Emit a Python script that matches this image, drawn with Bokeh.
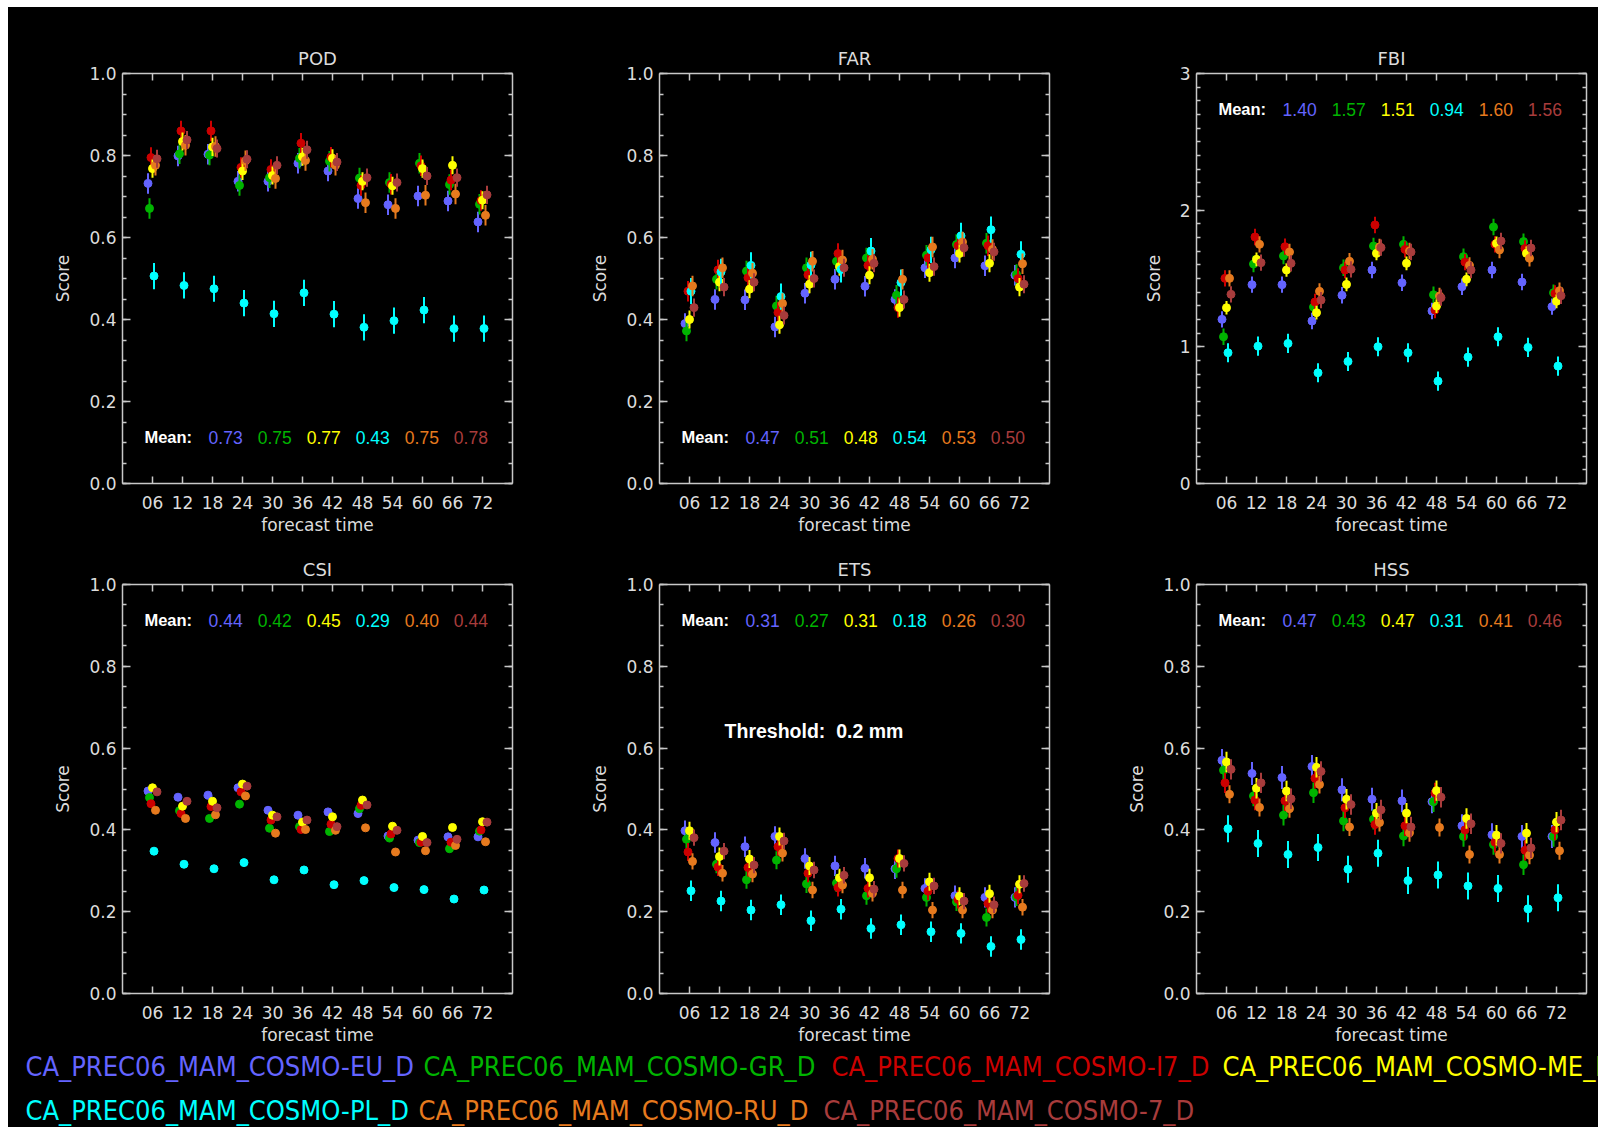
from bokeh.plotting import figure
from bokeh.layouts import column, row
from bokeh.models import (Range1d, LinearAxis, FixedTicker, SingleIntervalTicker,
                          NumeralTickFormatter, CustomJSTickFormatter, Label,
                          GlobalInlineStyleSheet)
from bokeh.embed import file_html
from bokeh.resources import INLINE

# ---------------------------------------------------------------- data
lead_times = ["06", "12", "18", "24", "30", "36", "42", "48", "54", "60", "66", "72"]

models = ["CA_PREC06_MAM_COSMO-EU_D", "CA_PREC06_MAM_COSMO-GR_D", "CA_PREC06_MAM_COSMO-I7_D",
          "CA_PREC06_MAM_COSMO-ME_D", "CA_PREC06_MAM_COSMO-PL_D", "CA_PREC06_MAM_COSMO-RU_D",
          "CA_PREC06_MAM_COSMO-7_D"]
model_colors = ["#6464ff", "#00b400", "#cc0000", "#ffff00", "#00ffff", "#e67a1e", "#a83c3c"]

# scores per model (rows: EU, GR, I7, ME, PL, RU, 7)
pod = [
    [0.732, 0.799, 0.803, 0.737, 0.737, 0.781, 0.762, 0.695, 0.680, 0.701, 0.689, 0.638],
    [0.671, 0.804, 0.801, 0.727, 0.746, 0.793, 0.786, 0.745, 0.734, 0.781, 0.729, 0.681],
    [0.795, 0.860, 0.860, 0.771, 0.766, 0.830, 0.796, 0.727, 0.730, 0.775, 0.740, 0.690],
    [0.768, 0.834, 0.821, 0.762, 0.751, 0.797, 0.793, 0.737, 0.726, 0.768, 0.776, 0.691],
    [0.506, 0.483, 0.475, 0.440, 0.414, 0.465, 0.413, 0.381, 0.397, 0.423, 0.378, 0.378],
    [0.776, 0.825, 0.822, 0.787, 0.744, 0.788, 0.776, 0.685, 0.671, 0.703, 0.706, 0.654],
    [0.792, 0.838, 0.817, 0.791, 0.776, 0.814, 0.784, 0.746, 0.734, 0.750, 0.746, 0.704],
]
far = [
    [0.390, 0.449, 0.448, 0.382, 0.464, 0.498, 0.481, 0.449, 0.526, 0.550, 0.531, 0.508],
    [0.372, 0.498, 0.518, 0.433, 0.526, 0.542, 0.550, 0.459, 0.557, 0.583, 0.586, 0.510],
    [0.469, 0.521, 0.502, 0.417, 0.509, 0.561, 0.532, 0.429, 0.550, 0.580, 0.580, 0.500],
    [0.400, 0.491, 0.474, 0.387, 0.486, 0.529, 0.508, 0.429, 0.514, 0.561, 0.537, 0.479],
    [0.469, 0.516, 0.532, 0.456, 0.533, 0.522, 0.567, 0.490, 0.570, 0.604, 0.619, 0.559],
    [0.482, 0.526, 0.513, 0.439, 0.542, 0.545, 0.547, 0.498, 0.577, 0.589, 0.571, 0.536],
    [0.429, 0.479, 0.491, 0.410, 0.500, 0.526, 0.537, 0.449, 0.529, 0.575, 0.565, 0.486],
]
fbi = [
    [1.201, 1.455, 1.455, 1.189, 1.377, 1.562, 1.469, 1.262, 1.440, 1.562, 1.474, 1.294],
    [1.074, 1.606, 1.665, 1.291, 1.579, 1.738, 1.750, 1.381, 1.660, 1.877, 1.770, 1.396],
    [1.501, 1.804, 1.733, 1.328, 1.562, 1.892, 1.713, 1.269, 1.620, 1.750, 1.720, 1.390],
    [1.286, 1.640, 1.562, 1.250, 1.457, 1.684, 1.611, 1.298, 1.494, 1.757, 1.684, 1.333],
    [0.957, 1.005, 1.025, 0.810, 0.893, 1.001, 0.957, 0.749, 0.925, 1.074, 0.996, 0.859],
    [1.501, 1.750, 1.694, 1.406, 1.626, 1.731, 1.701, 1.372, 1.596, 1.709, 1.648, 1.411],
    [1.384, 1.616, 1.611, 1.342, 1.567, 1.726, 1.694, 1.360, 1.562, 1.774, 1.723, 1.374],
]
csi = [
    [0.495, 0.480, 0.485, 0.503, 0.448, 0.436, 0.444, 0.440, 0.385, 0.375, 0.383, 0.383],
    [0.479, 0.447, 0.428, 0.463, 0.404, 0.408, 0.396, 0.452, 0.380, 0.369, 0.354, 0.397],
    [0.464, 0.440, 0.457, 0.493, 0.424, 0.401, 0.414, 0.460, 0.390, 0.370, 0.370, 0.400],
    [0.503, 0.458, 0.470, 0.512, 0.436, 0.419, 0.432, 0.473, 0.409, 0.384, 0.406, 0.420],
    [0.348, 0.316, 0.305, 0.320, 0.278, 0.302, 0.266, 0.276, 0.259, 0.254, 0.231, 0.253],
    [0.448, 0.428, 0.437, 0.483, 0.392, 0.401, 0.399, 0.405, 0.346, 0.349, 0.362, 0.371],
    [0.493, 0.470, 0.454, 0.507, 0.432, 0.424, 0.408, 0.461, 0.399, 0.369, 0.377, 0.419],
]
ets = [
    [0.398, 0.369, 0.359, 0.384, 0.330, 0.312, 0.306, 0.305, 0.257, 0.239, 0.235, 0.235],
    [0.377, 0.316, 0.278, 0.326, 0.268, 0.270, 0.239, 0.305, 0.235, 0.224, 0.186, 0.236],
    [0.346, 0.309, 0.308, 0.359, 0.294, 0.259, 0.257, 0.330, 0.250, 0.230, 0.220, 0.240],
    [0.398, 0.335, 0.329, 0.384, 0.312, 0.283, 0.283, 0.330, 0.273, 0.238, 0.244, 0.267],
    [0.251, 0.226, 0.204, 0.217, 0.178, 0.206, 0.159, 0.168, 0.151, 0.147, 0.115, 0.132],
    [0.323, 0.294, 0.292, 0.343, 0.253, 0.265, 0.245, 0.253, 0.204, 0.204, 0.204, 0.211],
    [0.381, 0.348, 0.314, 0.373, 0.302, 0.289, 0.255, 0.318, 0.263, 0.226, 0.217, 0.269],
]
hss = [
    [0.570, 0.538, 0.528, 0.555, 0.498, 0.475, 0.471, 0.469, 0.410, 0.388, 0.384, 0.384],
    [0.546, 0.483, 0.436, 0.491, 0.422, 0.426, 0.385, 0.469, 0.384, 0.364, 0.315, 0.384],
    [0.515, 0.473, 0.471, 0.526, 0.454, 0.413, 0.410, 0.490, 0.400, 0.370, 0.350, 0.400],
    [0.566, 0.502, 0.495, 0.553, 0.475, 0.441, 0.441, 0.496, 0.428, 0.387, 0.392, 0.419],
    [0.403, 0.367, 0.340, 0.357, 0.304, 0.343, 0.276, 0.290, 0.263, 0.257, 0.207, 0.234],
    [0.487, 0.455, 0.452, 0.511, 0.407, 0.418, 0.393, 0.406, 0.340, 0.340, 0.338, 0.349],
    [0.548, 0.515, 0.476, 0.543, 0.462, 0.449, 0.407, 0.480, 0.415, 0.367, 0.356, 0.424],
]

# half-width of the uncertainty bars, per model
pod_err = [0.025, 0.025, 0.025, 0.022, 0.032, 0.025, 0.022]
far_err = [0.025, 0.025, 0.025, 0.022, 0.032, 0.025, 0.022]
fbi_err = [0.060, 0.060, 0.060, 0.050, 0.070, 0.060, 0.060]
csi_err = [0.0, 0.0, 0.0, 0.0, 0.0, 0.0, 0.0]
ets_err = [0.025, 0.022, 0.022, 0.022, 0.025, 0.020, 0.020]
hss_err = [0.028, 0.025, 0.025, 0.025, 0.033, 0.022, 0.025]

# mean scores printed in each panel (models EU, GR, ME, PL, RU, 7)
mean_models = [0, 1, 3, 4, 5, 6]
pod_mean = [0.73, 0.75, 0.77, 0.43, 0.75, 0.78]
far_mean = [0.47, 0.51, 0.48, 0.54, 0.53, 0.50]
fbi_mean = [1.40, 1.57, 1.51, 0.94, 1.60, 1.56]
csi_mean = [0.44, 0.42, 0.45, 0.29, 0.40, 0.44]
ets_mean = [0.31, 0.27, 0.31, 0.18, 0.26, 0.30]
hss_mean = [0.47, 0.43, 0.47, 0.31, 0.41, 0.46]

threshold_text = "Threshold:\u00a0 0.2 mm"

# ---------------------------------------------------------------- styling
AXIS_COLOR = "#c8c8c8"
TEXT_COLOR = "#dcdcdc"
AXIS_FONT = "DejaVu Sans"
KEY_FONT = "'DejaVu Sans Condensed', 'Liberation Sans'"
MODEL_SHIFT = [-0.15, -0.10, -0.05, 0.0, 0.05, 0.10, 0.15]


def style_axis(ax):
    ax.axis_line_color = AXIS_COLOR
    ax.axis_line_width = 1.5
    ax.major_tick_line_color = AXIS_COLOR
    ax.minor_tick_line_color = AXIS_COLOR
    ax.major_tick_line_width = 1.5
    ax.minor_tick_line_width = 1.5
    ax.major_tick_in = 8
    ax.major_tick_out = 0
    ax.minor_tick_in = 4
    ax.minor_tick_out = 0
    ax.major_label_text_color = TEXT_COLOR
    ax.major_label_text_font = AXIS_FONT
    ax.major_label_text_font_size = "17px"
    ax.axis_label_text_color = TEXT_COLOR
    ax.axis_label_text_font = AXIS_FONT
    ax.axis_label_text_font_size = "17px"
    ax.axis_label_text_font_style = "normal"


def blank_axis(ticker):
    ax = LinearAxis(ticker=ticker, formatter=CustomJSTickFormatter(code="return ''"))
    style_axis(ax)
    ax.major_label_standoff = 0
    return ax


def panel(name, scores, errs, means, ymax, step, minor, fmt, mean_y,
          width, height, top, bottom, right, note=None):
    p = figure(width=width, height=height, x_range=Range1d(0, 13), y_range=Range1d(0, ymax),
               output_backend="svg", toolbar_location=None,
               x_axis_location=None, y_axis_location=None,
               min_border_left=114, min_border_right=right,
               min_border_top=top, min_border_bottom=bottom,
               background_fill_color="black", border_fill_color="black",
               outline_line_color=None)
    p.grid.visible = False

    p.title.text = name
    p.title.align = "center"
    p.title.text_color = TEXT_COLOR
    p.title.text_font = AXIS_FONT
    p.title.text_font_size = "18px"
    p.title.text_font_style = "normal"
    p.title.standoff = 9

    xticks = FixedTicker(ticks=list(range(1, len(lead_times) + 1)), minor_ticks=[])
    yticks = SingleIntervalTicker(interval=step, num_minor_ticks=minor)

    bottom_ax = LinearAxis(ticker=xticks, axis_label="forecast time",
                           major_label_overrides={i + 1: t for i, t in enumerate(lead_times)})
    style_axis(bottom_ax)
    bottom_ax.major_tick_in = 7
    bottom_ax.major_label_standoff = 12
    bottom_ax.axis_label_standoff = 3
    p.add_layout(bottom_ax, "below")

    left_ax = LinearAxis(ticker=yticks, axis_label="Score", formatter=NumeralTickFormatter(format=fmt))
    style_axis(left_ax)
    left_ax.major_label_standoff = 6
    left_ax.axis_label_standoff = 13
    p.add_layout(left_ax, "left")

    top_ax = blank_axis(xticks)
    top_ax.major_tick_in = 7
    p.add_layout(top_ax, "above")
    p.add_layout(blank_axis(yticks), "right")

    for k, (vals, err, col) in enumerate(zip(scores, errs, model_colors)):
        xs = [i + 1 + MODEL_SHIFT[k] for i in range(len(vals))]
        if err > 0:
            p.segment(x0=xs, y0=[v - err for v in vals], x1=xs, y1=[v + err for v in vals],
                      line_color=col, line_width=2)
        p.scatter(xs, vals, size=8, marker="circle", fill_color=col, line_color=col)

    p.add_layout(Label(x=0.73, y=mean_y, text="Mean:", text_color="white",
                       text_font="Liberation Sans", text_font_size="16.5px",
                       text_font_style="bold", text_baseline="middle"))
    for j, (m, idx) in enumerate(zip(means, mean_models)):
        p.add_layout(Label(x=2.87 + 1.635 * j, y=mean_y, text=f"{m:.2f}",
                           text_color=model_colors[idx], text_font="Liberation Sans",
                           text_font_size="17.5px", text_baseline="middle"))
    if note:
        p.add_layout(Label(x=2.17, y=0.642 * ymax, text=note, text_color="white",
                           text_font="Liberation Sans", text_font_size="19.5px",
                           text_font_style="bold", text_baseline="middle"))
    return p


W = [537, 537, 516]
R = [33, 33, 12]
H1, T1, B1 = 536, 66, 60
H2, T2, B2 = 504, 41, 53

top_row = [
    panel("POD", pod, pod_err, pod_mean, 1.0, 0.2, 4, "0.0", 0.113, W[0], H1, T1, B1, R[0]),
    panel("FAR", far, far_err, far_mean, 1.0, 0.2, 4, "0.0", 0.113, W[1], H1, T1, B1, R[1]),
    panel("FBI", fbi, fbi_err, fbi_mean, 3.0, 1.0, 10, "0", 2.74, W[2], H1, T1, B1, R[2]),
]
bottom_row = [
    panel("CSI", csi, csi_err, csi_mean, 1.0, 0.2, 4, "0.0", 0.912, W[0], H2, T2, B2, R[0]),
    panel("ETS", ets, ets_err, ets_mean, 1.0, 0.2, 4, "0.0", 0.912, W[1], H2, T2, B2, R[1],
          note=threshold_text),
    panel("HSS", hss, hss_err, hss_mean, 1.0, 0.2, 4, "0.0", 0.912, W[2], H2, T2, B2, R[2]),
]

# ---------------------------------------------------------------- model key
key_w, key_h = sum(W), 90
key = figure(width=key_w, height=key_h, x_range=Range1d(0, key_w), y_range=Range1d(key_h, 0),
             output_backend="svg", toolbar_location=None,
             x_axis_location=None, y_axis_location=None,
             min_border=0, background_fill_color="black", border_fill_color="black",
             outline_line_color=None)
key.grid.visible = False
key_slots = [(17, 19), (415, 19), (823, 19), (1214, 19), (17, 63), (410, 63), (815, 63)]
for name, col, (kx, ky) in zip(models, model_colors, key_slots):
    key.add_layout(Label(x=kx, y=ky, text=name, text_color=col,
                         text_font=KEY_FONT, text_font_size="27px",
                         text_baseline="middle"))

black = {"background-color": "black"}
layout = column(row(*top_row, styles=black), row(*bottom_row, styles=black), key,
                styles=black, margin=(7, 0, 0, 8))
layout.stylesheets = [GlobalInlineStyleSheet(css="html, body { overflow: hidden; }")]

open("out.html", "w").write(file_html(layout, INLINE))
